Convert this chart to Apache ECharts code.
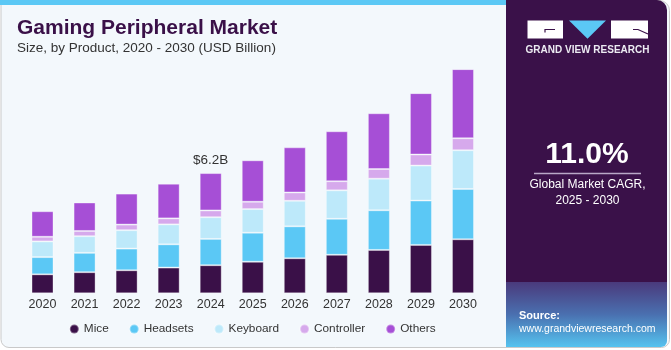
<!DOCTYPE html>
<html>
<head>
<meta charset="utf-8">
<script src="https://cdn.jsdelivr.net/npm/echarts@6/dist/echarts.min.js"></script>
<style>
html,body{margin:0;padding:0;background:#ffffff;}
#chart{width:671px;height:350px;}
</style>
</head>
<body>
<div id="chart"></div>
<script>
var years = ['2020','2021','2022','2023','2024','2025','2026','2027','2028','2029','2030'];
var mice = [0.98,1.09,1.19,1.33,1.45,1.63,1.81,1.99,2.24,2.50,2.79];
var headsets = [0.89,1.00,1.12,1.20,1.36,1.50,1.65,1.86,2.05,2.29,2.60];
var keyboard = [0.81,0.86,0.95,1.03,1.12,1.22,1.32,1.47,1.63,1.81,2.00];
var controller = [0.24,0.27,0.29,0.31,0.35,0.38,0.43,0.47,0.50,0.57,0.62];
var others = [1.32,1.47,1.60,1.79,1.93,2.14,2.33,2.58,2.88,3.17,3.57];
var seriesNames = ['Mice','Headsets','Keyboard','Controller','Others'];
var labelYear = '2024';

var colors = ['#3a1048','#5bc8f5','#bde9fa','#d6a9ec','#a64fd6'];
var allData = [mice, headsets, keyboard, controller, others];
var labelIdx = years.indexOf(labelYear);
var labelTotal = 0;
allData.forEach(function(a){ labelTotal += a[labelIdx]; });
var labelText = '$' + labelTotal.toFixed(1) + 'B';

var FONT = '"Liberation Sans", Arial, sans-serif';

var series = allData.map(function(arr, si){
  var data = arr.map(function(v, i){
    if (si === allData.length - 1 && i === labelIdx) {
      return {value: v, label: {show: true, position: 'top', distance: 6, formatter: labelText,
        color: '#333333', fontSize: 13.5, fontFamily: FONT}};
    }
    return v;
  });
  return {
    name: seriesNames[si],
    type: 'bar',
    stack: 'total',
    barWidth: 22,
    data: data,
    itemStyle: {color: colors[si], borderColor: 'rgba(255,255,255,0.35)', borderWidth: 1},
    emphasis: {disabled: true}
  };
});

var chart = echarts.init(document.getElementById('chart'), null, {renderer: 'canvas'});
chart.setOption({
  animation: false,
  textStyle: {fontFamily: FONT},
  grid: {left: 21.5, right: 187, top: 61, bottom: 56.7, containLabel: false},
  xAxis: {
    type: 'category',
    data: years,
    axisLine: {show: false},
    axisTick: {show: false},
    axisLabel: {color: '#333333', fontSize: 12.5, margin: 4.5, fontFamily: FONT}
  },
  yAxis: {
    type: 'value', min: 0, max: 12, show: false,
    splitLine: {show: false}
  },
  legend: {
    left: 68.8, top: 323, padding: 0,
    icon: 'circle', itemWidth: 9, itemHeight: 9, itemGap: 20,
    textStyle: {color: '#333333', fontSize: 11.8, fontFamily: FONT},
    data: seriesNames
  },
  graphic: [
    {type: 'rect', z: -10, silent: true, shape: {x: 1, y: 0.5, width: 668.5, height: 347, r: [0, 10, 8, 8]},
      style: {fill: '#f3f8fc', stroke: '#c9c9c9', lineWidth: 1}},
    {type: 'rect', z: -9, silent: true, shape: {x: 0, y: 0, width: 506, height: 5}, style: {fill: '#5bc8f5'}},
    {type: 'rect', z: -9, silent: true, shape: {x: 506, y: 0, width: 161, height: 282, r: [0, 10, 0, 0]}, style: {fill: '#3a1149'}},
    {type: 'rect', z: -9, silent: true, shape: {x: 506, y: 282, width: 161, height: 65, r: [0, 0, 6, 0]},
      style: {fill: new echarts.graphic.LinearGradient(0, 0, 0, 1, [
        {offset: 0, color: '#4a3a7c'}, {offset: 0.5, color: '#4a70b0'}, {offset: 1, color: '#55c3ef'}])}},
    // logo
    {type: 'rect', silent: true, shape: {x: 527.5, y: 20.5, width: 35.5, height: 18}, style: {fill: '#ffffff'}},
    {type: 'polyline', silent: true, shape: {points: [[555, 29.5], [545, 29.5], [545, 32.5]]}, style: {stroke: '#3a1149', lineWidth: 1.2, fill: null}},
    {type: 'polygon', silent: true, shape: {points: [[569, 20.5], [606, 20.5], [587.5, 38.7]]}, style: {fill: '#5bc8f5'}},
    {type: 'rect', silent: true, shape: {x: 611, y: 20.5, width: 37, height: 18}, style: {fill: '#ffffff'}},
    {type: 'polyline', silent: true, shape: {points: [[633, 29.5], [638, 29.5], [648, 34]]}, style: {stroke: '#3a1149', lineWidth: 1.2, fill: null}},
    {type: 'text', silent: true, style: {x: 587.5, y: 50, text: 'GRAND VIEW RESEARCH', fill: '#ecebf2',
      font: 'bold 10px ' + FONT, align: 'center', verticalAlign: 'middle'}},
    // CAGR
    {type: 'text', silent: true, style: {x: 587, y: 155, text: '11.0%', fill: '#ffffff',
      font: 'bold 30px ' + FONT, align: 'center', verticalAlign: 'middle'}},
    {type: 'line', silent: true, shape: {x1: 534, y1: 173.5, x2: 641, y2: 173.5}, style: {stroke: '#b9a8c7', lineWidth: 1.5}},
    {type: 'text', silent: true, style: {x: 587.5, y: 185, text: 'Global Market CAGR,', fill: '#ffffff',
      font: '12px ' + FONT, align: 'center', verticalAlign: 'middle'}},
    {type: 'text', silent: true, style: {x: 587.5, y: 201, text: '2025 - 2030', fill: '#ffffff',
      font: '12px ' + FONT, align: 'center', verticalAlign: 'middle'}},
    // Source
    {type: 'text', silent: true, style: {x: 519, y: 315.7, text: 'Source:', fill: '#ffffff',
      font: 'bold 11px ' + FONT, align: 'left', verticalAlign: 'middle'}},
    {type: 'text', silent: true, style: {x: 519, y: 329.3, text: 'www.grandviewresearch.com', fill: '#ffffff',
      font: '10.5px ' + FONT, align: 'left', verticalAlign: 'middle'}},
    // titles
    {type: 'text', silent: true, style: {x: 17, y: 28, text: 'Gaming Peripheral Market', fill: '#3a1048',
      font: 'bold 21px ' + FONT, align: 'left', verticalAlign: 'middle'}},
    {type: 'text', silent: true, style: {x: 17, y: 48.3, text: 'Size, by Product, 2020 - 2030 (USD Billion)', fill: '#333333',
      font: '13.5px ' + FONT, align: 'left', verticalAlign: 'middle'}}
  ],
  series: series
});
</script>
</body>
</html>
